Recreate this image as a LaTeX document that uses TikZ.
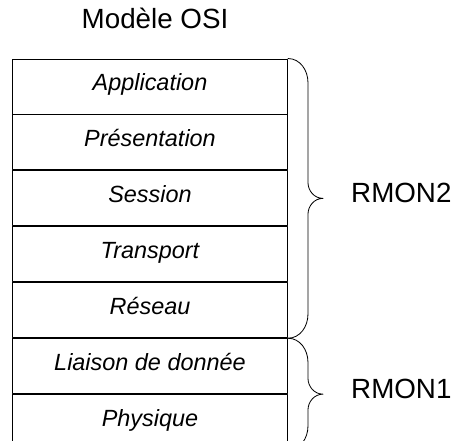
\documentclass[tikz,border=0pt]{standalone}
\usepackage{fontspec}
\setmainfont{Liberation Sans}
\usetikzlibrary{positioning,calc}
\tikzset{
  every picture/.style={line join=round, line cap=round},
  layer/.style={draw, line width=0.8pt, minimum width=8.25cm, minimum height=1.65cm, inner sep=0pt,
    text height=0.716em, text depth=0pt, font=\fontsize{20}{24}\selectfont\itshape},
  rmon/.style={inner sep=0pt, text height=0.716em, text depth=0pt, font=\fontsize{23.7}{28}\selectfont},
  bracket/.style={line width=0.7pt},
}

\begin{document}
\begin{tikzpicture}
\useasboundingbox (0,0) rectangle (13.8,13.23);
\node[rmon] (title) at (4.65,12.51) {Modèle OSI};
% couches du modele
\node[layer] (app) at (4.5,10.635) {Application};
\node[layer, below=0pt of app] (pres) {Présentation};
\node[layer, below=0pt of pres] (sess) {Session};
\node[layer, below=0pt of sess] (trans) {Transport};
\node[layer, below=0pt of trans] (res) {Réseau};
\node[layer, below=0pt of res] (liai) {Liaison de donnée};
\node[layer, below=0pt of liai] (phys) {Physique};
% accolades
\coordinate (tip2) at ($(app.north east)!0.5!(res.south east)+(1.05,0)$);
\coordinate (tip1) at ($(liai.north east)!0.5!(phys.south east)+(1.05,0)$);
\draw[bracket] (app.north east) to[out=0,in=90] ++(0.6,-0.72) -- ($(tip2)+(-0.45,0.48)$)
  to[out=-90,in=180] (tip2) to[out=180,in=90] ($(tip2)+(-0.45,-0.48)$)
  -- ($(res.south east)+(0.6,0.72)$) to[out=-90,in=0] (res.south east);
\draw[bracket] (liai.north east) to[out=0,in=90] ++(0.6,-0.72) -- ($(tip1)+(-0.45,0.48)$)
  to[out=-90,in=180] (tip1) to[out=180,in=90] ($(tip1)+(-0.45,-0.48)$)
  -- ($(phys.south east)+(0.6,0.72)$) to[out=-90,in=0] (phys.south east);
\node[rmon, right=0.84cm of tip2] (rmon2) {RMON2};
\node[rmon, right=0.84cm of tip1] (rmon1) {RMON1};
\end{tikzpicture}
\end{document}
